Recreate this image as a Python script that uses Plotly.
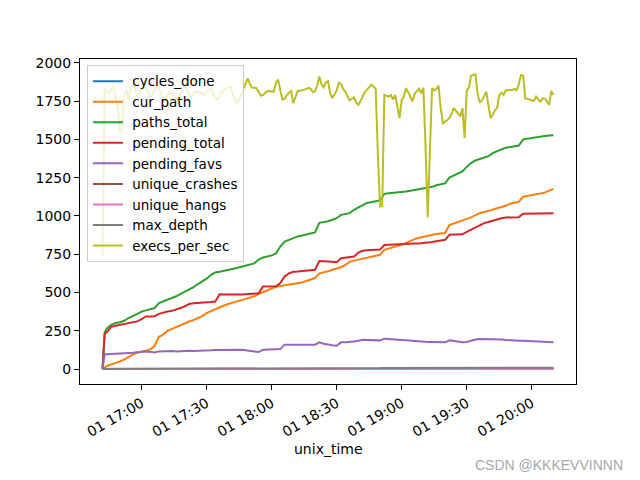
import pandas as pd
import plotly.graph_objects as go

# ---- data ----
base_time = pd.Timestamp("2023-06-01 16:00")

# counters sampled every ~2 minutes (minutes after 16:00)
counter_minutes = [42, 43] + list(range(44, 251, 2))
# execs_per_sec sampled every minute
execs_minutes = list(range(42, 251))

cycles_done = [0] * 106
unique_crashes = [0] * 106
unique_hangs = [0] * 106

cur_path = [0, 10, 20, 30, 38, 50, 62, 80, 95, 106,
            112, 120, 128, 150, 210, 225, 250, 262, 275, 288,
            300, 310, 320, 333, 345, 365, 378, 390, 405, 415,
            425, 435, 442, 450, 458, 465, 475, 490, 502, 512,
            525, 537, 542, 546, 550, 553, 557, 565, 575, 585,
            594, 625, 630, 638, 648, 657, 665, 680, 700, 708,
            715, 722, 728, 735, 742, 746, 778, 785, 795, 803,
            811, 825, 838, 848, 858, 865, 872, 878, 882, 885,
            888, 940, 950, 960, 968, 978, 990, 1005, 1018, 1025,
            1035, 1040, 1050, 1058, 1066, 1080, 1085, 1092, 1125, 1130,
            1135, 1140, 1145, 1152, 1165, 1177]

paths_total = [0, 240, 265, 289, 300, 305, 315, 333, 345, 362,
               375, 383, 392, 398, 430, 440, 455, 465, 475, 490,
               505, 518, 535, 555, 570, 590, 615, 630, 635, 640,
               648, 655, 660, 668, 675, 681, 690, 715, 728, 735,
               742, 755, 800, 833, 845, 858, 866, 872, 878, 885,
               892, 955, 958, 965, 975, 985, 1007, 1012, 1018, 1040,
               1057, 1070, 1085, 1092, 1096, 1100, 1144, 1148, 1150, 1155,
               1158, 1160, 1165, 1170, 1175, 1180, 1183, 1190, 1200, 1205,
               1212, 1250, 1265, 1280, 1290, 1320, 1345, 1362, 1370, 1380,
               1390, 1410, 1425, 1435, 1445, 1450, 1455, 1460, 1500, 1505,
               1510, 1514, 1518, 1522, 1525, 1527]

pending_total = [0, 232, 240, 275, 283, 289, 290, 298, 305, 311,
                 325, 343, 343, 345, 360, 370, 375, 380, 387, 398,
                 410, 425, 430, 431, 433, 436, 438, 441, 488, 486,
                 485, 485, 486, 487, 489, 490, 491, 495, 539, 539,
                 539, 540, 561, 605, 625, 635, 637, 640, 643, 646,
                 648, 705, 705, 702, 700, 698, 724, 728, 732, 735,
                 760, 772, 775, 777, 779, 780, 810, 812, 813, 814,
                 815, 816, 818, 820, 820, 822, 825, 830, 835, 840,
                 844, 877, 877, 877, 880, 895, 909, 925, 940, 953,
                 960, 970, 979, 985, 990, 992, 992, 992, 1014, 1014,
                 1015, 1015, 1016, 1017, 1018, 1018]

pending_favs = [0, 98, 97, 98, 98, 100, 101, 104, 106, 110,
                112, 115, 112, 108, 115, 117, 117, 118, 115, 118,
                118, 120, 118, 118, 120, 122, 122, 124, 125, 126,
                126, 126, 125, 126, 122, 118, 113, 111, 126, 127,
                128, 129, 130, 159, 158, 158, 157, 158, 157, 158,
                159, 174, 165, 158, 155, 152, 174, 174, 175, 180,
                185, 191, 190, 189, 188, 187, 198, 197, 195, 192,
                190, 188, 185, 182, 180, 178, 176, 176, 175, 175,
                174, 187, 183, 178, 174, 176, 185, 193, 196, 196,
                197, 197, 196, 193, 190, 187, 185, 185, 185, 183,
                181, 180, 178, 176, 175, 174]

max_depth = [0, 1, 1, 2, 2, 2, 2, 2, 2, 3,
             3, 3, 3, 3, 3, 3, 3, 3, 3, 3,
             4, 4, 4, 4, 4, 4, 4, 4, 4, 4,
             4, 4, 4, 4, 5, 5, 5, 5, 5, 5,
             5, 5, 5, 5, 5, 5, 5, 5, 5, 5,
             6, 6, 6, 6, 6, 6, 6, 6, 6, 6,
             6, 6, 6, 6, 6, 6, 7, 7, 7, 7,
             7, 7, 7, 7, 7, 7, 7, 7, 7, 7,
             7, 7, 7, 7, 7, 8, 8, 8, 8, 8,
             8, 8, 8, 8, 8, 8, 8, 8, 8, 8,
             8, 8, 8, 8, 8, 8]

execs_per_sec = [745, 1830, 1812, 1801, 1820, 1845, 1780, 1714, 1551, 1551,
                 1800, 1823, 1758, 1830, 1867, 1820, 1779, 1800, 1820, 1845,
                 1830, 1800, 1779, 1790, 1830, 1856, 1840, 1790, 1770, 1758,
                 1790, 1812, 1800, 1780, 1770, 1758, 1800, 1830, 1845, 1815,
                 1790, 1779, 1800, 1812, 1812, 1805, 1795, 1790, 1810, 1825,
                 1834, 1800, 1770, 1758, 1790, 1810, 1823, 1830, 1840, 1845,
                 1800, 1760, 1736, 1760, 1790, 1830, 1870, 1899, 1860, 1838,
                 1838, 1835, 1810, 1786, 1790, 1800, 1815, 1814, 1812, 1812,
                 1870, 1890, 1820, 1760, 1765, 1790, 1805, 1816, 1736, 1780,
                 1816, 1818, 1820, 1825, 1830, 1836, 1830, 1808, 1814, 1850,
                 1910, 1860, 1840, 1870, 1880, 1800, 1770, 1795, 1820, 1870,
                 1860, 1830, 1812, 1780, 1755, 1765, 1775, 1740, 1725, 1750,
                 1785, 1810, 1825, 1840, 1858, 1845, 1830, 1400, 1061, 1065,
                 1790, 1785, 1779, 1790, 1760, 1790, 1700, 1638, 1758, 1780,
                 1835, 1810, 1780, 1747, 1800, 1815, 1830, 1800, 1838, 1450,
                 990, 1420, 1836, 1820, 1830, 1851, 1700, 1606, 1615, 1627,
                 1640, 1665, 1704, 1690, 1670, 1649, 1704, 1508, 1816, 1840,
                 1915, 1922, 1925, 1800, 1740, 1755, 1780, 1812, 1720, 1638,
                 1660, 1690, 1704, 1790, 1805, 1790, 1820, 1823, 1823, 1823,
                 1830, 1820, 1860, 1921, 1917, 1769, 1765, 1760, 1755, 1751,
                 1780, 1760, 1745, 1769, 1765, 1750, 1725, 1816, 1790]

series_names = [" cycles_done", " cur_path", " paths_total", " pending_total",
                " pending_favs", " unique_crashes", " unique_hangs",
                " max_depth", " execs_per_sec"]
colors = ["#1f77b4", "#ff7f0e", "#2ca02c", "#d62728", "#9467bd",
          "#8c564b", "#e377c2", "#7f7f7f", "#bcbd22"]

counter_times = [base_time + pd.Timedelta(minutes=m) for m in counter_minutes]
execs_times = [base_time + pd.Timedelta(minutes=m) for m in execs_minutes]

series_values = [cycles_done, cur_path, paths_total, pending_total,
                 pending_favs, unique_crashes, unique_hangs, max_depth,
                 execs_per_sec]

fig = go.Figure()
for name, vals, col in zip(series_names, series_values, colors):
    xs = execs_times if vals is execs_per_sec else counter_times
    n = min(len(xs), len(vals))
    fig.add_trace(go.Scatter(x=xs[:n], y=vals[:n], mode="lines", name=name,
                             line=dict(color=col, width=2)))

FONT = "DejaVu Sans"
x_min = base_time + pd.Timedelta(minutes=31.6)
x_max = base_time + pd.Timedelta(minutes=260.4)

# the page body adds an 8px offset, so margins are reduced accordingly
fig.update_layout(
    width=640, height=480,
    margin=dict(l=72, r=72, t=51, b=104),
    paper_bgcolor="white", plot_bgcolor="white",
    font=dict(family=FONT, size=14, color="black"),
    showlegend=True,
    legend=dict(x=0.014, y=0.982, xanchor="left", yanchor="top",
                bgcolor="rgba(255,255,255,0.8)", bordercolor="#cccccc",
                borderwidth=1, font=dict(family=FONT, size=13.5),
                itemwidth=30, tracegroupgap=0),
    xaxis=dict(range=[x_min, x_max], showgrid=False, zeroline=False,
               showline=True, linecolor="black", linewidth=1, mirror=True,
               ticks="outside", ticklen=5, tickcolor="black",
               tick0=base_time + pd.Timedelta(minutes=60), dtick=30 * 60 * 1000,
               tickformat="%d %H:%M", tickangle=-30,
               tickfont=dict(family=FONT, size=14)),
    yaxis=dict(range=[-98, 2025], showgrid=False, zeroline=False,
               showline=True, linecolor="black", linewidth=1, mirror=True,
               ticks="outside", ticklen=5, tickcolor="black",
               tickvals=[0, 250, 500, 750, 1000, 1250, 1500, 1750, 2000],
               tickfont=dict(family=FONT, size=14)),
    annotations=[
        dict(text="unix_time", xref="paper", yref="paper", x=0.5, y=-0.2,
             xanchor="center", yanchor="middle", showarrow=False,
             font=dict(family=FONT, size=14, color="black")),
        dict(text="CSDN @KKKEVVINNN", xref="paper", yref="paper",
             x=(625 - 80) / 496, y=(384 - 465) / 325,
             xanchor="right", yanchor="middle", showarrow=False,
             font=dict(family="Liberation Sans", size=14, color="#a8a8a8")),
    ],
)

fig.write_html("out.html")
